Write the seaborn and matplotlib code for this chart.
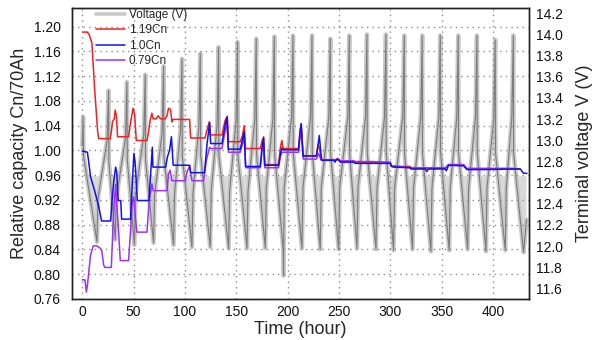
import numpy as np
import pandas as pd
import matplotlib
matplotlib.use("Agg")
import matplotlib.pyplot as plt
from matplotlib.lines import Line2D
import seaborn as sns

# ---------------- data ----------------
# Voltage: per-cycle troughs, peaks, knee before the spike, level after the spike
trough_t = [14.3, 32.1, 50.8, 69.4, 88.9, 106.8, 124.6, 142.5, 160.4, 178.2, 195.6, 213.9,
            231.7, 249.6, 267.5, 286.0, 303.1, 321.6, 339.5, 357.3, 375.2, 393.1, 411.9, 429.7]
trough_v = [12.04, 12.06, 12.01, 12.03, 12.01, 11.99, 11.99, 11.98, 11.98, 11.98, 11.98, 11.98,
            11.97, 11.97, 11.98, 11.97, 11.96, 11.97, 11.95, 11.96, 11.97, 11.95, 11.96, 11.94]
peak_t = [25.6, 43.5, 61.3, 79.2, 97.1, 114.9, 132.7, 151.2, 169.4, 187.0, 205.2, 223.7,
          241.5, 260.0, 277.2, 295.7, 313.5, 331.0, 348.6, 366.1, 384.3, 402.1, 419.7]
peak_v = [13.47, 13.55, 13.62, 13.70, 13.77, 13.82, 13.88, 13.93, 13.96, 13.98, 13.99, 13.99,
          13.96, 13.99, 14.00, 14.00, 13.99, 13.99, 13.99, 13.99, 13.99, 13.95, 13.99]
rise_v = [12.45, 12.45, 12.48, 12.48, 12.50, 12.50, 12.52, 12.52, 12.52, 12.55, 12.55, 12.55,
          12.55, 12.55, 12.55, 12.55, 12.55, 12.55, 12.55, 12.55, 12.55, 12.55, 12.55]
knee_v = [13.00, 13.02, 13.05, 13.08, 13.10, 13.12, 13.15, 13.18, 13.20, 13.20, 13.22, 13.22,
          13.22, 13.22, 13.22, 13.22, 13.22, 13.22, 13.22, 13.22, 13.22, 13.20, 13.22]
drop_v = [12.80, 12.82, 12.82, 12.84, 12.85, 12.86, 12.86, 12.86, 12.87, 12.87, 12.87, 12.88,
          12.88, 12.88, 12.88, 12.88, 12.88, 12.88, 12.88, 12.88, 12.88, 12.88, 12.88]
volt_head_t = [0.0, 0.8, 1.3]
volt_head_v = [12.95, 13.22, 12.85]
volt_extra_t = [196.0, 432.5]      # short dip near 196 h, last sample
volt_extra_v = [11.72, 12.25]

# Relative capacity series
red_t = [0.5, 5.0, 7.0, 9.4, 12.0, 15.0, 16.0, 27.3, 28.3, 29.5, 31.0, 32.1, 33.2, 34.4, 45.1, 46.2,
         47.5, 49.5, 51.0, 52.6, 63.0, 64.2, 66.0, 67.8, 69.0, 72.0, 74.0, 76.0, 80.5, 82.4, 84.0,
         86.0, 87.3, 88.2, 104.5, 105.5, 119.5, 121.0, 123.7, 124.8, 136.0, 139.0, 141.3, 142.5,
         153.8, 156.0, 157.7, 159.0, 173.3, 175.0, 176.6, 177.6, 191.1, 193.0, 194.4, 195.5, 210.6,
         212.0, 213.2, 215.0, 228.0, 229.5, 231.0, 232.5, 248.0, 249.0, 251.2, 264.0, 266.0, 283.7,
         300.0, 301.0, 303.0, 319.4, 320.0, 334.0, 339.0, 353.5, 356.7, 371.3, 374.5, 389.0, 426.0]
red_v = [1.191, 1.191, 1.186, 1.173, 1.100, 1.030, 1.019, 1.019, 1.030, 1.047, 1.050, 1.065, 1.056,
         1.022, 1.022, 1.035, 1.050, 1.068, 1.058, 1.016, 1.016, 1.026, 1.048, 1.060, 1.051, 1.051,
         1.056, 1.051, 1.051, 1.055, 1.068, 1.066, 1.046, 1.050, 1.050, 1.020, 1.020, 1.030, 1.046,
         1.025, 1.025, 1.048, 1.055, 1.014, 1.014, 1.024, 1.040, 1.003, 1.003, 1.015, 1.022, 0.977,
         0.977, 1.006, 1.016, 1.003, 1.003, 1.030, 1.043, 0.991, 0.991, 1.008, 1.004, 0.985, 0.985,
         0.987, 0.983, 0.983, 0.981, 0.981, 0.981, 0.975, 0.974, 0.974, 0.971, 0.971, 0.971, 0.971,
         0.977, 0.977, 0.970, 0.970, 0.970]

blue_t = [0.0, 5.0, 6.0, 8.1, 12.0, 16.2, 18.8, 27.6, 29.0, 30.8, 32.5, 33.5, 35.0, 37.5, 38.3, 47.0,
          48.5, 50.3, 51.5, 53.6, 64.9, 66.5, 68.2, 68.8, 81.1, 83.0, 85.0, 86.8, 88.5, 104.5, 105.5,
          119.0, 121.5, 124.0, 125.0, 136.0, 139.0, 140.9, 142.2, 153.8, 156.0, 157.7, 159.0, 173.3,
          175.0, 176.6, 177.6, 191.1, 193.0, 194.4, 195.2, 210.6, 212.0, 213.2, 215.0, 228.0, 229.5,
          230.8, 233.0, 245.0, 246.0, 247.0, 248.0, 250.0, 251.2, 264.0, 266.0, 283.7, 299.9, 301.0,
          303.0, 319.4, 320.0, 334.0, 335.6, 337.0, 353.5, 354.5, 356.7, 371.3, 374.5, 389.0, 426.5,
          429.7, 433.0]
blue_v = [0.999, 0.997, 0.985, 0.957, 0.935, 0.908, 0.886, 0.886, 0.920, 0.952, 0.973, 0.965, 0.919,
          0.919, 0.889, 0.889, 0.940, 0.995, 0.980, 0.919, 0.919, 0.960, 1.005, 0.973, 0.973, 0.990,
          1.000, 1.022, 0.976, 0.976, 0.964, 0.964, 1.010, 1.045, 1.011, 1.011, 1.040, 1.054, 1.002,
          1.002, 1.018, 1.030, 0.974, 0.974, 1.005, 1.020, 0.976, 0.976, 0.995, 1.004, 1.001, 1.001,
          1.030, 1.043, 0.991, 0.991, 1.008, 1.024, 0.984, 0.984, 0.981, 0.984, 0.986, 0.984, 0.981,
          0.981, 0.979, 0.979, 0.979, 0.974, 0.973, 0.972, 0.970, 0.970, 0.966, 0.970, 0.970, 0.967,
          0.976, 0.975, 0.969, 0.969, 0.970, 0.963, 0.963]

purple_t = [0.0, 2.5, 3.1, 4.0, 5.0, 6.5, 8.0, 10.5, 11.7, 14.0, 17.5, 19.0, 20.8, 22.0, 28.3, 30.0,
            31.5, 32.5, 33.5, 35.0, 37.0, 45.1, 47.0, 48.5, 50.0, 51.5, 53.2, 63.0, 65.0, 67.8, 69.0,
            82.4, 84.0, 85.5, 87.3, 100.3, 102.0, 104.5, 106.8, 118.1, 121.0, 124.0, 125.2, 136.0,
            139.0, 141.0, 142.4, 153.8, 156.0, 157.7, 159.2, 173.3, 175.0, 176.6, 177.8, 191.1, 193.0,
            194.4, 195.4, 210.6, 212.0, 213.4, 215.2, 228.0, 230.0, 232.5, 248.0, 251.2, 264.0, 266.0,
            283.7, 300.0, 301.0, 303.0, 319.4, 334.0, 339.0, 353.5, 356.7, 371.3, 374.5, 389.0, 420.0]
purple_v = [0.791, 0.791, 0.784, 0.771, 0.782, 0.806, 0.830, 0.845, 0.846, 0.846, 0.842, 0.838, 0.815,
            0.811, 0.811, 0.880, 0.925, 0.945, 0.915, 0.880, 0.822, 0.822, 0.870, 0.914, 0.925, 0.895,
            0.868, 0.868, 0.915, 0.946, 0.935, 0.935, 0.962, 0.968, 0.951, 0.951, 0.965, 0.975, 0.951,
            0.951, 0.985, 1.005, 1.003, 1.003, 1.030, 1.045, 0.997, 0.997, 1.010, 1.022, 0.972, 0.972,
            0.998, 1.012, 0.972, 0.972, 0.990, 0.997, 0.997, 0.997, 1.020, 1.030, 0.986, 0.986, 0.995,
            0.985, 0.985, 0.983, 0.983, 0.982, 0.982, 0.980, 0.975, 0.975, 0.972, 0.972, 0.972, 0.972,
            0.977, 0.977, 0.971, 0.971, 0.971]

x_ticks = [0, 50, 100, 150, 200, 250, 300, 350, 400]
cap_ticks = [0.76, 0.80, 0.84, 0.88, 0.92, 0.96, 1.00, 1.04, 1.08, 1.12, 1.16, 1.20]
volt_ticks = [11.6, 11.8, 12.0, 12.2, 12.4, 12.6, 12.8, 13.0, 13.2, 13.4, 13.6, 13.8, 14.0, 14.2]

# ---------------- assemble voltage trace ----------------
vt = list(volt_head_t)
vv = list(volt_head_v)
for k in range(len(peak_t)):
    vt += [trough_t[k], trough_t[k] + 1.0, peak_t[k] - 1.4, peak_t[k], peak_t[k] + 0.3]
    vv += [trough_v[k], rise_v[k], knee_v[k], peak_v[k], drop_v[k]]
vt += [trough_t[-1]] + volt_extra_t
vv += [trough_v[-1]] + volt_extra_v
volt = pd.DataFrame({"t": vt, "v": vv}).sort_values("t").reset_index(drop=True)

red = pd.DataFrame({"t": red_t, "c": red_v})
blue = pd.DataFrame({"t": blue_t, "c": blue_v})
purple = pd.DataFrame({"t": purple_t, "c": purple_v})

# ---------------- plot ----------------
sns.set_style("white")
plt.rcParams['font.family'] = ['Liberation Sans', 'DejaVu Sans']

fig = plt.figure(figsize=(5.97, 3.40), dpi=100)
ax = fig.add_axes([0.1206, 0.1206, 0.7655, 0.856])
ax2 = ax.twinx()

light_gray = "#c8c8c8"
# dense charge/discharge ripple band appears as a light-grey wedge around each trough
ax2.fill_between(volt["t"], volt["v"], 12.66, where=volt["v"] < 12.66, interpolate=True,
                 color="#d9d9d9", lw=0)
sns.lineplot(data=volt, x="t", y="v", ax=ax2, color=light_gray, lw=3.2, sort=False,
             estimator=None, legend=False, solid_joinstyle="round")
sns.lineplot(data=volt, x="t", y="v", ax=ax2, color="#7c7c7c", lw=0.8, sort=False,
             estimator=None, legend=False)

sns.lineplot(data=red, x="t", y="c", ax=ax, color="#f22020", lw=1.1, sort=False,
             estimator=None, label="1.19Cn", legend=False)
sns.lineplot(data=purple, x="t", y="c", ax=ax, color="#9b30ff", lw=1.1, sort=False,
             estimator=None, label="0.79Cn", legend=False)
sns.lineplot(data=blue, x="t", y="c", ax=ax, color="#1010f0", lw=1.1, sort=False,
             estimator=None, label="1.0Cn", legend=False)

ax.set_zorder(ax2.get_zorder() + 1)
ax.patch.set_visible(False)

ax.set_xlim(-10, 435)
ax.set_ylim(0.76, 1.23)
ax2.set_ylim(11.5, 14.25)
ax.set_xticks(x_ticks)
ax.set_yticks(cap_ticks)
ax.set_yticklabels([f"{v:.2f}" for v in cap_ticks])
ax2.set_yticks(volt_ticks)
ax2.set_yticklabels([f"{v:.1f}" for v in volt_ticks])

ax.grid(True, ls=(0, (1, 3)), color="#8c8c8c", lw=1.0)
ax2.grid(False)

ax.tick_params(axis="both", length=0, labelsize=10, colors="#111111")
ax.tick_params(axis="y", pad=8)
ax.tick_params(axis="x", pad=4)
ax2.tick_params(axis="y", length=0, labelsize=10, pad=5, colors="#111111")

for a in (ax, ax2):
    for s in a.spines.values():
        s.set_color("#222222")
        s.set_linewidth(1.0)

ax.set_xlabel("Time (hour)", fontsize=13, labelpad=2)
ax.set_ylabel("Relative capacity Cn/70Ah", fontsize=13, labelpad=4)
ax2.set_ylabel("Terminal voltage V (V)", fontsize=13, labelpad=9)

lines = {l.get_label(): l for l in ax.get_lines()}
volt_handle = Line2D([], [], color=light_gray, lw=2.6)
handles = [volt_handle, lines["1.19Cn"], lines["1.0Cn"], lines["0.79Cn"]]
labels = ["Voltage (V)", "1.19Cn", "1.0Cn", "0.79Cn"]
ax.legend(handles, labels, loc="upper left", bbox_to_anchor=(0.052, 0.997), frameon=False,
          fontsize=8.5, handlelength=2.5, handletextpad=0.3, labelspacing=0.3,
          borderpad=0, borderaxespad=0)

fig.savefig("out.png", dpi=100)
